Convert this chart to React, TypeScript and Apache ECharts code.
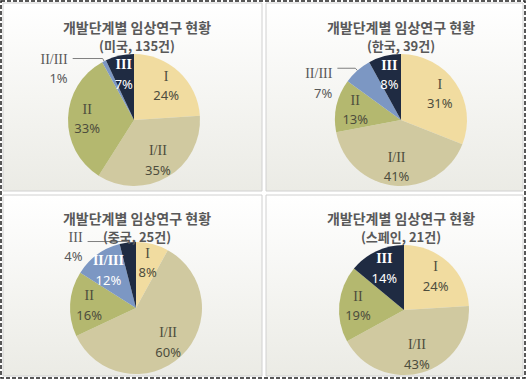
import React, { useEffect, useRef } from "react";
import * as echarts from "echarts";

const phases = ["I", "I/II", "II", "II/III", "III"];
const phaseColors = ["#f1dca0", "#d0c9a0", "#b4b86f", "#7c97c3", "#1f2b42"];
const mainTitle = "개발단계별 임상연구 현황";
const subtitles = ["(미국, 135건)", "(한국, 39건)", "(중국, 25건)", "(스페인, 21건)"];
const usValues = [24, 35, 33, 1, 7];
const krValues = [31, 41, 13, 7, 8];
const cnValues = [8, 60, 16, 12, 4];
const esValues = [24, 43, 19, 0, 14];
const outsidePhase = ["II/III", "II/III", "III", ""];

const allValues = [usValues, krValues, cnValues, esValues];
const panels = [
  { x: 3, y: 3, w: 259, h: 188, cx: 134, cy: 120, r: 66, tx: 132, ty: 15 },
  { x: 266, y: 3, w: 257, h: 188, cx: 401, cy: 120, r: 66, tx: 396, ty: 15 },
  { x: 3, y: 195, w: 259, h: 181, cx: 136, cy: 308, r: 66, tx: 132, ty: 206 },
  { x: 266, y: 195, w: 257, h: 181, cx: 404, cy: 310, r: 65, tx: 396, ty: 206 },
];
const lineLens = [
  [3, 30],
  [3, 18],
  [1, 40],
  [3, 20],
];
const labelShift = [
  [0, 10],
  [0, 15],
  [0, 5],
  [0, 0],
];

export default function App() {
  const ref = useRef<HTMLDivElement>(null);
  useEffect(() => {
    if (!ref.current) return;
    const chart = echarts.init(ref.current, null, { renderer: "svg" });
    const series: any[] = [];
    const titles: any[] = [];
    const graphics: any[] = [];

    graphics.push({
      type: "rect",
      shape: { x: 1, y: 1, width: 524, height: 377 },
      style: { fill: "#ffffff", stroke: "#222", lineWidth: 1.5, lineDash: [4, 2] },
      z: -10,
    });

    panels.forEach((p, i) => {
      graphics.push({
        type: "rect",
        shape: { x: p.x, y: p.y, width: p.w, height: p.h },
        style: {
          fill: new echarts.graphic.LinearGradient(0, 0, 0, 1, [
            { offset: 0, color: "#ffffff" },
            { offset: 1, color: "#ebebe5" },
          ]),
          stroke: "#d0d0d0",
          lineWidth: 1,
        },
        z: -9,
      });
      titles.push({
        text: mainTitle,
        subtext: subtitles[i],
        left: p.tx,
        top: p.ty,
        textAlign: "center",
        itemGap: 5,
        textStyle: {
          fontFamily: "Noto Sans CJK KR",
          fontSize: 14,
          fontWeight: "bold",
          color: "#595959",
        },
        subtextStyle: {
          fontFamily: "Noto Sans CJK KR",
          fontSize: 13,
          fontWeight: "bold",
          color: "#595959",
        },
      });
      const vals = allValues[i];
      const data = phases
        .map((name, k) => ({ name, value: vals[k], k }))
        .filter((d) => d.value > 0);
      const outs = outsidePhase[i];
      series.push({
        type: "pie",
        center: [p.cx, p.cy],
        radius: [0, p.r],
        startAngle: 90,
        clockwise: true,
        label: { show: false },
        labelLine: { show: false },
        data: data.map((d) => ({
          name: d.name,
          value: d.value,
          itemStyle: { color: phaseColors[d.k] },
        })),
      });
      const inner = p.r * 0.33;
      series.push({
        type: "pie",
        center: [p.cx, p.cy],
        radius: [inner, p.r],
        startAngle: 90,
        clockwise: true,
        silent: true,
        itemStyle: { color: "rgba(0,0,0,0)" },
        label: {
          show: true,
          position: "inside",
          formatter: (q: any) => {
            const white = q.name === "III" || (q.name === "II/III" && q.name !== outs);
            const isOut = q.name === outs;
            const s = isOut ? "o" : white ? "w" : "d";
            return `{n${s}|${q.name}}\n{p${s}|${q.value}%}`;
          },
          rich: {
            nd: { fontFamily: "Liberation Serif", fontSize: 14, lineHeight: 19, color: "#4d4d3d" },
            pd: { fontFamily: "Noto Sans", fontSize: 13, lineHeight: 19, color: "#4d4d3d" },
            nw: { fontFamily: "Liberation Serif", fontSize: 14, fontWeight: "bold", lineHeight: 19, color: "#ffffff" },
            pw: { fontFamily: "Noto Sans", fontSize: 13, lineHeight: 19, color: "#ffffff" },
            no: { fontFamily: "Liberation Serif", fontSize: 14, lineHeight: 19, color: "#595959" },
            po: { fontFamily: "Noto Sans", fontSize: 13, lineHeight: 19, color: "#595959" },
          },
        },
        labelLine: { show: false },
        labelLayout: (params: any) => {
          const nm = data[params.dataIndex] ? data[params.dataIndex].name : "";
          if (nm !== outs) return {};
          return { dx: labelShift[i][0], dy: labelShift[i][1] };
        },
        data: data.map((d) => {
          const item: any = { name: d.name, value: d.value };
          if (d.name === outs) {
            item.label = { position: "outside", align: "center" };
            item.labelLine = {
              show: true,
              length: lineLens[i][0],
              length2: lineLens[i][1],
              lineStyle: { color: "#7f7f7f", width: 1 },
            };
          }
          return item;
        }),
      });
    });

    chart.setOption({
      animation: false,
      title: titles,
      graphic: graphics,
      series,
    });
    return () => chart.dispose();
  }, []);
  return (
    <div
      ref={ref}
      style={{ position: "fixed", left: 0, top: 0, width: 528, height: 384, background: "#fff" }}
    />
  );
}
